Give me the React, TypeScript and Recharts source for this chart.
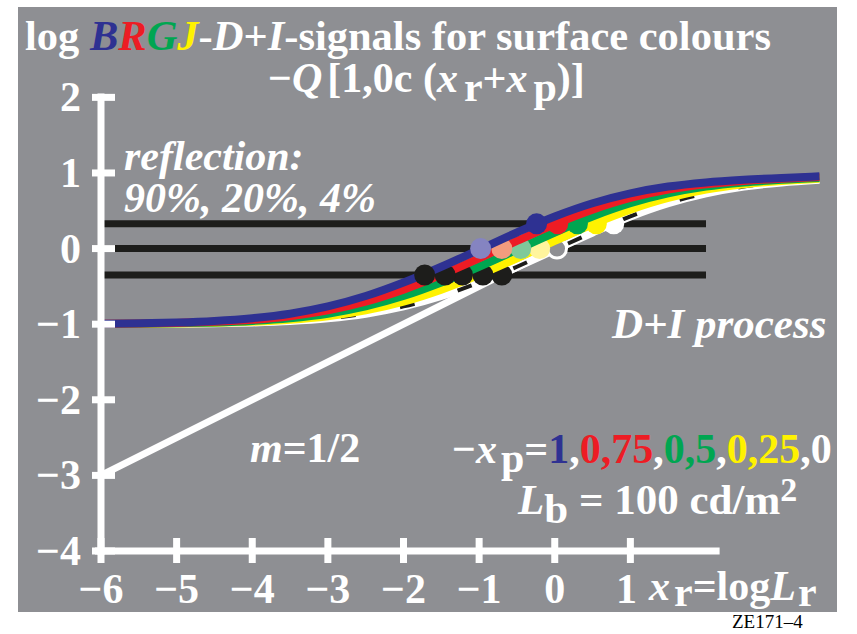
import React from 'react';
import { ComposedChart, Line, Scatter, XAxis, YAxis, ReferenceLine } from 'recharts';

const GRAY = '#8e8f93';
const BLUE = '#2e3192';
const RED = '#ed1c24';
const GREEN = '#00a651';
const YELLOW = '#fff200';
const INK = '#1d1d1b';
const SERIF = '"Liberation Serif", "Times New Roman", serif';

const xGrid = [-6, -5.5, -5, -4.5, -4, -3.5, -3, -2.5, -2, -1.5, -1, -0.5, 0, 0.5, 1, 1.5, 2, 2.5, 3, 3.5];

// log D+I signal for -xp = 0, 0.25, 0.5, 0.75, 1
const sigXp0 = [-0.998, -0.997, -0.994, -0.988, -0.977, -0.957, -0.921, -0.861, -0.765, -0.628, -0.449, -0.24, -0.014, 0.213, 0.425, 0.6, 0.73, 0.82, 0.875, 0.91];
const sigXp025 = [-0.998, -0.995, -0.991, -0.983, -0.968, -0.942, -0.895, -0.818, -0.702, -0.543, -0.347, -0.128, 0.101, 0.322, 0.515, 0.67, 0.78, 0.85, 0.895, 0.925];
const sigXp05 = [-0.997, -0.994, -0.988, -0.977, -0.957, -0.921, -0.861, -0.765, -0.628, -0.449, -0.24, -0.014, 0.213, 0.425, 0.6, 0.73, 0.82, 0.875, 0.91, 0.935];
const sigXp075 = [-0.995, -0.991, -0.983, -0.968, -0.942, -0.895, -0.818, -0.702, -0.543, -0.347, -0.128, 0.101, 0.322, 0.515, 0.67, 0.78, 0.85, 0.895, 0.925, 0.946];
const sigXp1 = [-0.994, -0.988, -0.977, -0.957, -0.921, -0.861, -0.765, -0.628, -0.449, -0.24, -0.014, 0.213, 0.425, 0.6, 0.73, 0.82, 0.875, 0.91, 0.935, 0.955];

// reflection levels 90%, 20%, 4%
const reflLevels = [0.327, 0, -0.349];
const reflSpan = [-6, 2];

// m = 1/2 reference line
const slopeX = [-6, 0];
const slopeY = [-3, 0];

// where each curve crosses the 90% / 20% / 4% levels (xp0, 0.25, 0.5, 0.75, 1)
const cross90 = [0.78, 0.55, 0.3, 0.04, -0.24];
const cross20 = [0.03, -0.2, -0.45, -0.7, -0.98];
const cross4 = [-0.7, -0.95, -1.22, -1.45, -1.72];

const xTicks = [-6, -5, -4, -3, -2, -1, 0, 1];
const yTicks = [-4, -3, -2, -1, 0, 1, 2];

const curves = [
  { id: 'xp0', values: sigXp0, color: '#ffffff', mid: 'ring' },
  { id: 'xp025', values: sigXp025, color: YELLOW, mid: '#fff59d' },
  { id: 'xp05', values: sigXp05, color: GREEN, mid: '#7fc99a' },
  { id: 'xp075', values: sigXp075, color: RED, mid: '#f49c7e' },
  { id: 'xp1', values: sigXp1, color: BLUE, mid: '#8584c1' },
];

const pts = (xs: number[], ys: number[]) => xs.map((x, i) => ({ x, y: ys[i] }));

const fmt = (v: number) => (v < 0 ? '\u2212' + Math.abs(v) : String(v));

const XTick = (props: any) => {
  const { x, y, payload } = props;
  return (
    <g>
      <rect x={x - 3.5} y={y - 13} width={7} height={25} fill="#fff" />
      <text x={payload.value === 1 ? x - 4 : x} y={y + 52} textAnchor="middle" fill="#fff" fontFamily={SERIF} fontWeight="bold" fontSize={42}>
        {fmt(payload.value)}
      </text>
    </g>
  );
};

const YTick = (props: any) => {
  const { x, y, payload } = props;
  return (
    <g>
      <rect x={x - 9} y={y - 3.5} width={23} height={7} fill="#fff" />
      <text x={x - 20} y={y + 14} textAnchor="end" fill="#fff" fontFamily={SERIF} fontWeight="bold" fontSize={42}>
        {fmt(payload.value)}
      </text>
    </g>
  );
};

const Dot = (props: any) => {
  const { cx, cy, payload } = props;
  if (payload.ring) {
    return <circle cx={cx} cy={cy} r={9.5} fill={GRAY} stroke="#fff" strokeWidth={3} />;
  }
  return <circle cx={cx} cy={cy} r={10.5} fill={payload.fill} />;
};

export default function App() {
  let z = 100;
  const layers: React.ReactNode[] = [];

  reflLevels.forEach((lv, i) => {
    layers.push(
      <Line key={'refl' + i} data={pts(reflSpan, [lv, lv])} dataKey="y" stroke={INK} strokeWidth={7}
        dot={false} activeDot={false} isAnimationActive={false} type="linear" zIndex={z++} />
    );
  });
  layers.push(
    <Line key="slope" data={pts(slopeX, slopeY)} dataKey="y" stroke="#fff" strokeWidth={7}
      dot={false} activeDot={false} isAnimationActive={false} type="linear" zIndex={z++} />
  );

  curves.forEach((c, i) => {
    const data = pts(xGrid, c.values);
    layers.push(
      <Line key={c.id} data={data} dataKey="y" stroke={c.color} strokeWidth={8}
        dot={false} activeDot={false} isAnimationActive={false} type="monotone" zIndex={z++} />
    );
    if (c.id === 'xp0') {
      layers.push(
        <Line key="xp0dash" data={data} dataKey="y" stroke={INK} strokeWidth={4} strokeDasharray="15 45"
          dot={false} activeDot={false} isAnimationActive={false} type="monotone" zIndex={z++} />
      );
    }
    const marks = [
      { x: cross90[i], y: reflLevels[0], fill: c.color, ring: false },
      { x: cross20[i], y: reflLevels[1], fill: c.mid, ring: c.mid === 'ring' },
      { x: cross4[i], y: reflLevels[2], fill: INK, ring: false },
    ];
    layers.push(
      <Scatter key={c.id + 'dots'} data={marks} dataKey="y" shape={Dot} isAnimationActive={false} zIndex={z++} />
    );
  });

  return (
    <div style={{ position: 'relative', width: 857, height: 634, background: '#fff' }}>
      <style>{'body{margin:0}'}</style>
      <div style={{ position: 'absolute', left: 18, top: 7, width: 819, height: 605, background: GRAY }} />
      <div style={{ position: 'absolute', left: 0, top: 0 }}>
        <ComposedChart width={857} height={634} margin={{ top: 52, right: 30, bottom: 43, left: 21 }}>
          <XAxis dataKey="x" type="number" domain={[-6, 3.6]} ticks={xTicks} allowDataOverflow
            axisLine={false} tickLine={false} tickSize={0} tickMargin={0} height={40} tick={<XTick />} interval={0} />
          <YAxis type="number" domain={[-4, 2.6]} ticks={yTicks} allowDataOverflow
            axisLine={false} tickLine={false} tickSize={0} tickMargin={0} width={80} tick={<YTick />} interval={0} />
          {layers}
          <ReferenceLine segment={[{ x: -6, y: -4.05 }, { x: -6, y: 2.05 }]} stroke="#fff" strokeWidth={7} ifOverflow="visible" zIndex={z++} />
          <ReferenceLine segment={[{ x: -6.08, y: -4 }, { x: 2.18, y: -4 }]} stroke="#fff" strokeWidth={7} ifOverflow="visible" zIndex={z++} />
        </ComposedChart>
      </div>
      <svg width={857} height={634} style={{ position: 'absolute', left: 0, top: 0, pointerEvents: 'none' }}
        fontFamily={SERIF} fontWeight="bold" fill="#fff">
        <text x={25} y={50} fontSize={42.5}>
          {'log '}
          <tspan fill={BLUE} fontStyle="italic">B</tspan>
          <tspan fill={RED} fontStyle="italic">R</tspan>
          <tspan fill={GREEN} fontStyle="italic">G</tspan>
          <tspan fill={YELLOW} fontStyle="italic">J</tspan>
          <tspan>-</tspan>
          <tspan fontStyle="italic">D</tspan>
          <tspan>+</tspan>
          <tspan fontStyle="italic">I</tspan>
          <tspan>-signals for surface colours</tspan>
        </text>
        <text x={268} y={92} fontSize={42}>
          {'\u2212'}
          <tspan fontStyle="italic">Q</tspan>
          <tspan dx={5}>[1,0c (</tspan>
          <tspan fontStyle="italic">x</tspan>
          <tspan dx={6} dy={9}>r</tspan>
          <tspan dy={-9}>+</tspan>
          <tspan fontStyle="italic">x</tspan>
          <tspan dx={6} dy={9}>p</tspan>
          <tspan dy={-9}>)]</tspan>
        </text>
        <text x={124} y={170} fontSize={42} fontStyle="italic">reflection:</text>
        <text x={124} y={212} fontSize={42} fontStyle="italic">90%, 20%, 4%</text>
        <text x={612} y={338} fontSize={43} fontStyle="italic">D+I process</text>
        <text x={250} y={462} fontSize={42}>
          <tspan fontStyle="italic">m</tspan>
          <tspan>=1/2</tspan>
        </text>
        <text x={452} y={463} fontSize={42}>
          {'\u2212'}
          <tspan fontStyle="italic">x</tspan>
          <tspan dx={4} dy={9}>p</tspan>
          <tspan dy={-9}>=</tspan>
          <tspan fill={BLUE}>1</tspan>
          <tspan>,</tspan>
          <tspan fill={RED}>0,75</tspan>
          <tspan>,</tspan>
          <tspan fill={GREEN}>0,5</tspan>
          <tspan>,</tspan>
          <tspan fill={YELLOW}>0,25</tspan>
          <tspan>,0</tspan>
        </text>
        <text x={518} y={514} fontSize={43}>
          <tspan fontStyle="italic">L</tspan>
          <tspan dy={9}>b</tspan>
          <tspan dy={-9}>{' = 100 cd/m'}</tspan>
          <tspan dy={-13} fontSize={34}>2</tspan>
        </text>
        <text x={649} y={600} fontSize={42}>
          <tspan fontStyle="italic">x</tspan>
          <tspan dx={4} dy={6}>r</tspan>
          <tspan dy={-6}>=log</tspan>
          <tspan fontStyle="italic">L</tspan>
          <tspan dx={2} dy={6}>r</tspan>
        </text>
        <text x={732} y={628} fontSize={19} fontWeight="normal" fill="#000">ZE171{'\u2013'}4</text>
      </svg>
    </div>
  );
}
